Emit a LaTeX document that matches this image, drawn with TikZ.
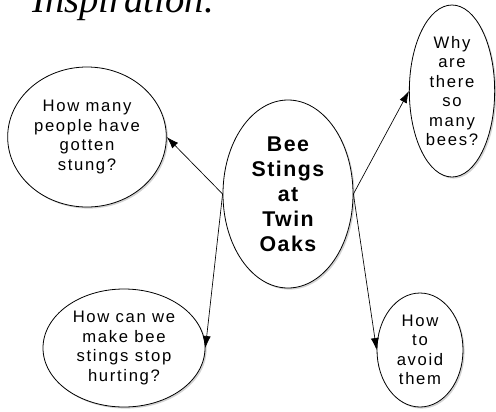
\documentclass[tikz,border=0pt]{standalone}
\usepackage{fontspec}
\setmainfont{Liberation Sans}
\newfontfamily\bubblefont[LetterSpace=10]{Liberation Sans}
\newfontfamily\centrefont[LetterSpace=7]{Liberation Sans}
\newfontfamily\titlefont{Liberation Serif}
\usetikzlibrary{shapes.geometric,arrows.meta,shadows}

\begin{document}
\begin{tikzpicture}[x=0.75pt,y=-0.75pt]
\tikzstyle{every node}+=[inner sep=0pt]
\tikzstyle{bubble}=[ellipse,draw=black,line width=0.6pt,fill=white,align=center,
  drop shadow={shadow xshift=1.2pt,shadow yshift=-1.2pt,opacity=0.35},
  font=\bubblefont\fontsize{12.5}{14.6}\selectfont]
\tikzstyle{link}=[line width=0.5pt,-{Latex[length=9pt,width=6pt]}]
\useasboundingbox (0,0) rectangle (496,411);
% heading, cut at the top
\node[anchor=base west,font=\titlefont\itshape\fontsize{29}{30}\selectfont] (title) at (32,12) {Inspiration.};
% centre
\node[bubble,minimum width=97.5pt,minimum height=141pt,
  font=\centrefont\bfseries\fontsize{16}{18.75}\selectfont] (bees) at (288,194)
  {Bee\\Stings\\at\\Twin\\Oaks};
% questions
\node[bubble,minimum width=119pt,minimum height=105pt] (stung) at (87,137)
  {How many\\people have\\gotten\\stung?};
\node[bubble,minimum width=64pt,minimum height=129pt] (why) at (452,91)
  {Why\\are\\there\\so\\many\\bees?};
\node[bubble,minimum width=121.5pt,minimum height=88.5pt] (hurt) at (124,348)
  {How can we\\make bee\\stings stop\\hurting?};
\node[bubble,minimum width=64.5pt,minimum height=85.5pt] (avoid) at (420,350)
  {How\\to\\avoid\\them};
% links
\draw[link] (bees.west) -- (stung.east);
\draw[link] (bees.west) -- (hurt.east);
\draw[link] (bees.east) -- (why.west);
\draw[link] (bees.east) -- (avoid.west);
\end{tikzpicture}
\end{document}
